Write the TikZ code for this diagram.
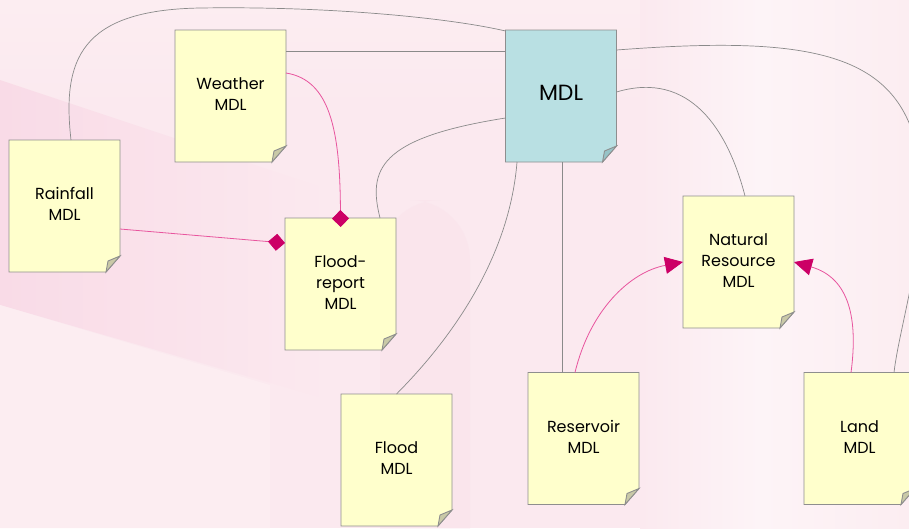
\documentclass[tikz,border=0pt]{standalone}
\usepackage{fontspec}
\setmainfont{Poppins}
\usetikzlibrary{arrows.meta,backgrounds,calc}

\definecolor{notefill}{HTML}{FFFFCC}
\definecolor{notefold}{HTML}{C9C9A7}
\definecolor{mdlfill}{HTML}{B9E0E3}
\definecolor{mdlfold}{HTML}{97C3C7}
\definecolor{noteedge}{HTML}{8E8E8E}
\definecolor{wire}{HTML}{8A8A8A}
\definecolor{pinkwire}{HTML}{E8559E}
\definecolor{pinktip}{HTML}{CC0066}
\definecolor{bgbase}{HTML}{FBE9EF}
\definecolor{bgband}{HTML}{F9DBE7}
\definecolor{bgsoft}{HTML}{FCEDF1}
\definecolor{bglight}{HTML}{FDF4F7}

\newcommand{\notetext}[1]{\raisebox{9pt}{\fontsize{16}{21}\selectfont\begin{tabular}{@{}c@{}}#1\end{tabular}}}

\tikzset{
  note/.style={minimum width=111pt, minimum height=132pt, inner sep=0pt, outer sep=0pt},
  bignote/.style={note, font=\fontsize{22}{26}\selectfont},
  noteline/.style={draw=noteedge, line width=0.9pt, line join=miter},
  plainwire/.style={draw=wire, line width=0.7pt},
  partwire/.style={draw=pinkwire, line width=0.8pt,
    -{Diamond[length=17pt,width=17pt,color=pinktip,fill=pinktip]}},
  usewire/.style={draw=pinkwire, line width=0.8pt,
    -{Triangle[length=18pt,width=17pt,color=pinktip,fill=pinktip]}},
}

% outline of a note sheet with a curled lower right corner
\newcommand{\sheet}[3]{%
  \path[noteline, fill=#2] (#1.north west) -- (#1.north east)
    -- ([yshift=16pt]#1.south east) -- ([xshift=-14pt]#1.south east)
    -- (#1.south west) -- cycle;
  \path[noteline, fill=#3] ([yshift=16pt]#1.south east)
    -- ([xshift=-12pt,yshift=11pt]#1.south east)
    -- ([xshift=-14pt]#1.south east) -- cycle;
}

\begin{document}
\begin{tikzpicture}[x=1pt, y=-1pt]
\useasboundingbox (0,0) rectangle (909,528);
\clip (0,0) rectangle (909,528);

% model sheets
\node[note] (weather)   at (230.5,96)  {\notetext{Weather\\MDL}};
\node[note] (rainfall)  at (64.5,206)  {\notetext{Rainfall\\MDL}};
\node[bignote] (mdl)    at (561,96)    {\raisebox{7pt}{MDL}};
\node[note] (floodrep)  at (340.5,284) {\notetext{Flood-\\report\\MDL}};
\node[note] (natres)    at (738.5,262) {\notetext{Natural\\Resource\\MDL}};
\node[note] (flood)     at (396.5,460) {\notetext{Flood\\MDL}};
\node[note] (reservoir) at (583.5,438.5) {\notetext{Reservoir\\MDL}};
\node[note] (land)      at (859.5,438.5) {\notetext{Land\\MDL}};

\begin{scope}[on background layer]
  % backdrop: soft pink, a slightly deeper diagonal band on the left,
  % paler towards the right
  \fill[bgbase] (0,0) rectangle (909,528);
  \shade[top color=bgsoft, bottom color=bgbase] (0,0) rectangle (909,110);
  \shade[left color=bgband, right color=bgbase]
    (0,80) -- (330,190) -- (330,400) -- (0,305) -- cycle;
  \fill[bgsoft] (0,305) -- (270,385) -- (270,528) -- (0,528) -- cycle;
  \fill[bgband, opacity=0.25, rounded corners=60pt]
    (380,200) rectangle (470,600);
  \shade[left color=bgbase, right color=bglight]
    (640,0) rectangle (760,528);
  \shade[left color=bglight, right color=bgsoft]
    (760,0) rectangle (909,528);

  \sheet{weather}{notefill}{notefold}
  \sheet{rainfall}{notefill}{notefold}
  \sheet{mdl}{mdlfill}{mdlfold}
  \sheet{floodrep}{notefill}{notefold}
  \sheet{natres}{notefill}{notefold}
  \sheet{flood}{notefill}{notefold}
  \sheet{reservoir}{notefill}{notefold}
  \sheet{land}{notefill}{notefold}
\end{scope}

% plain links to the central MDL
\draw[plainwire] ([xshift=6.5pt]rainfall.north)
  .. controls (62,60) and (80,10) .. (200,8)
  .. controls (330,6) and (450,18) .. ([yshift=-1pt]mdl.north west);
\draw[plainwire] ([yshift=45pt]weather.east) -- ([yshift=45pt]mdl.west);
\draw[plainwire] ([xshift=39.5pt]floodrep.north)
  .. controls (368,170) and (378,138) .. ([yshift=-22pt]mdl.west);
\draw[plainwire] (flood.north)
  .. controls (460,330) and (510,250) .. ([xshift=-44pt]mdl.south);
\draw[plainwire] ([xshift=-21.5pt]reservoir.north) -- ([xshift=1pt]mdl.south);
\draw[plainwire] ([yshift=4pt]mdl.east)
  .. controls (690,70) and (728,130) .. ([xshift=6.5pt]natres.north);
\draw[plainwire] ([yshift=46pt]mdl.east)
  .. controls (800,36) and (890,50) .. (915,140)
  .. controls (935,220) and (900,320) .. ([xshift=34.5pt]land.north);

% part-of links into the flood report
\draw[partwire, shorten >=-9pt] ([yshift=23pt]weather.east)
  .. controls (330,80) and (340,130) .. (floodrep.north);
\draw[partwire] ([yshift=-23pt]rainfall.east) -- ([yshift=41pt]floodrep.west);

% links into the natural resource model
\draw[usewire] ([xshift=-8.5pt]reservoir.north)
  .. controls (590,310) and (630,272) .. (natres.west);
\draw[usewire] ([xshift=-8.5pt]land.north)
  .. controls (858,320) and (850,278) .. (natres.east);
\end{tikzpicture}
\end{document}
